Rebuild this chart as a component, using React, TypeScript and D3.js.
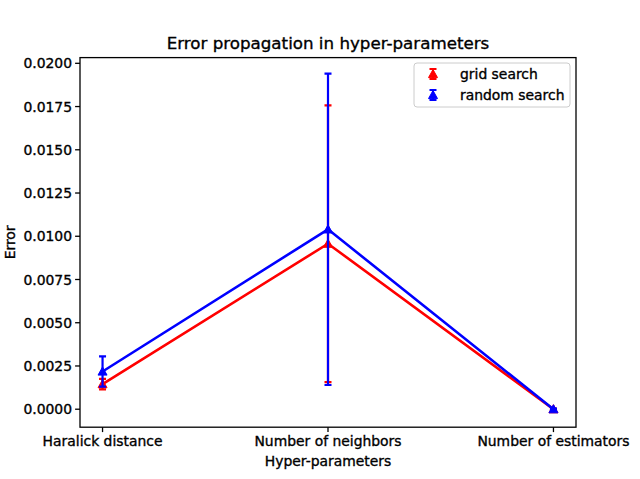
import React from "react";
import * as d3 from "d3";

const categories = ["Haralick distance", "Number of neighbors", "Number of estimators"];
const gridValues = [0.00145, 0.00957, 0.0];
const gridErrors = [0.0003, 0.008, 0.00003];
const randomValues = [0.00218, 0.0104, 0.0];
const randomErrors = [0.00087, 0.009, 0.00003];
const yTicks = [0.0, 0.0025, 0.005, 0.0075, 0.01, 0.0125, 0.015, 0.0175, 0.02];

const W = 640, H = 479;
const left = 80, right = 576, top = 57.6, bottom = 427.2;
const font = "DejaVu Sans, sans-serif";
const fs = 13.9;

export default function App() {
  const x = d3.scaleLinear().domain([-0.1, 2.1]).range([left, right]);
  const y = d3.scaleLinear().domain([-0.00104, 0.02033]).range([bottom, top]);
  const line = d3.line<number>().x((_, i) => x(i)).y((d) => y(d));
  const tri = (cx: number, cy: number, r = 4.5) =>
    `M${cx},${cy - r}L${cx + r},${cy + r * 0.8}L${cx - r},${cy + r * 0.8}Z`;

  const series = [
    { name: "grid search", vals: gridValues, errs: gridErrors, color: "#ff0000" },
    { name: "random search", vals: randomValues, errs: randomErrors, color: "#0000ff" },
  ];
  const txt = { fill: "#000", stroke: "#000", strokeWidth: 0.35 };

  return (
    <svg width={W} height={H} style={{ position: "absolute", left: 0, top: 0, background: "#fff" }} fontFamily={font}>
      <rect x={0} y={0} width={W} height={H} fill="#fff" />
      <defs>
        <clipPath id="clip">
          <rect x={left} y={top} width={right - left} height={bottom - top} />
        </clipPath>
      </defs>
      <g clipPath="url(#clip)">
        {series.map((s) => (
          <g key={s.name}>
            <path d={line(s.vals) || ""} fill="none" stroke={s.color} strokeWidth={2.6} />
            {s.vals.map((v, i) => (
              <g key={i} stroke={s.color} strokeWidth={2.2}>
                <line x1={x(i)} x2={x(i)} y1={y(v - s.errs[i])} y2={y(v + s.errs[i])} />
                <line x1={x(i) - 3.5} x2={x(i) + 3.5} y1={y(v - s.errs[i])} y2={y(v - s.errs[i])} />
                <line x1={x(i) - 3.5} x2={x(i) + 3.5} y1={y(v + s.errs[i])} y2={y(v + s.errs[i])} />
              </g>
            ))}
            {s.vals.map((v, i) => (
              <path key={"m" + i} d={tri(x(i), y(v))} fill={s.color} stroke={s.color} strokeWidth={1} />
            ))}
          </g>
        ))}
      </g>
      <rect x={left} y={top} width={right - left} height={bottom - top} fill="none" stroke="#000" strokeWidth={1.3} />
      {yTicks.map((t) => (
        <g key={t}>
          <line x1={left - 4.9} x2={left} y1={y(t)} y2={y(t)} stroke="#000" strokeWidth={1.3} />
          <text x={left - 8} y={y(t)} dy="0.36em" textAnchor="end" fontSize={fs} {...txt}>
            {t.toFixed(4)}
          </text>
        </g>
      ))}
      {categories.map((c, i) => (
        <g key={c}>
          <line x1={x(i)} x2={x(i)} y1={bottom} y2={bottom + 4.9} stroke="#000" strokeWidth={1.3} />
          <text x={x(i)} y={bottom + 19} textAnchor="middle" fontSize={fs} {...txt}>
            {c}
          </text>
        </g>
      ))}
      <text x={(left + right) / 2} y={466} textAnchor="middle" fontSize={fs} {...txt}>
        Hyper-parameters
      </text>
      <text transform={`translate(15,${(top + bottom) / 2}) rotate(-90)`} textAnchor="middle" fontSize={fs} {...txt}>
        Error
      </text>
      <text x={(left + right) / 2} y={49} textAnchor="middle" fontSize={16.7} {...txt}>
        Error propagation in hyper-parameters
      </text>
      <g>
        <rect x={414} y={63} width={156} height={44} rx={3} fill="#fff" fillOpacity={0.8} stroke="#ccc" strokeWidth={1} />
        {series.map((s, i) => {
          const cy = 74 + i * 21;
          return (
            <g key={s.name}>
              <g stroke={s.color} strokeWidth={2}>
                <line x1={433} x2={433} y1={cy - 5} y2={cy + 5} />
                <line x1={429.5} x2={436.5} y1={cy - 5} y2={cy - 5} />
                <line x1={429.5} x2={436.5} y1={cy + 5} y2={cy + 5} />
              </g>
              <path d={tri(433, cy)} fill={s.color} stroke={s.color} />
              <text x={460} y={cy} dy="0.36em" fontSize={fs} {...txt}>
                {s.name}
              </text>
            </g>
          );
        })}
      </g>
    </svg>
  );
}
